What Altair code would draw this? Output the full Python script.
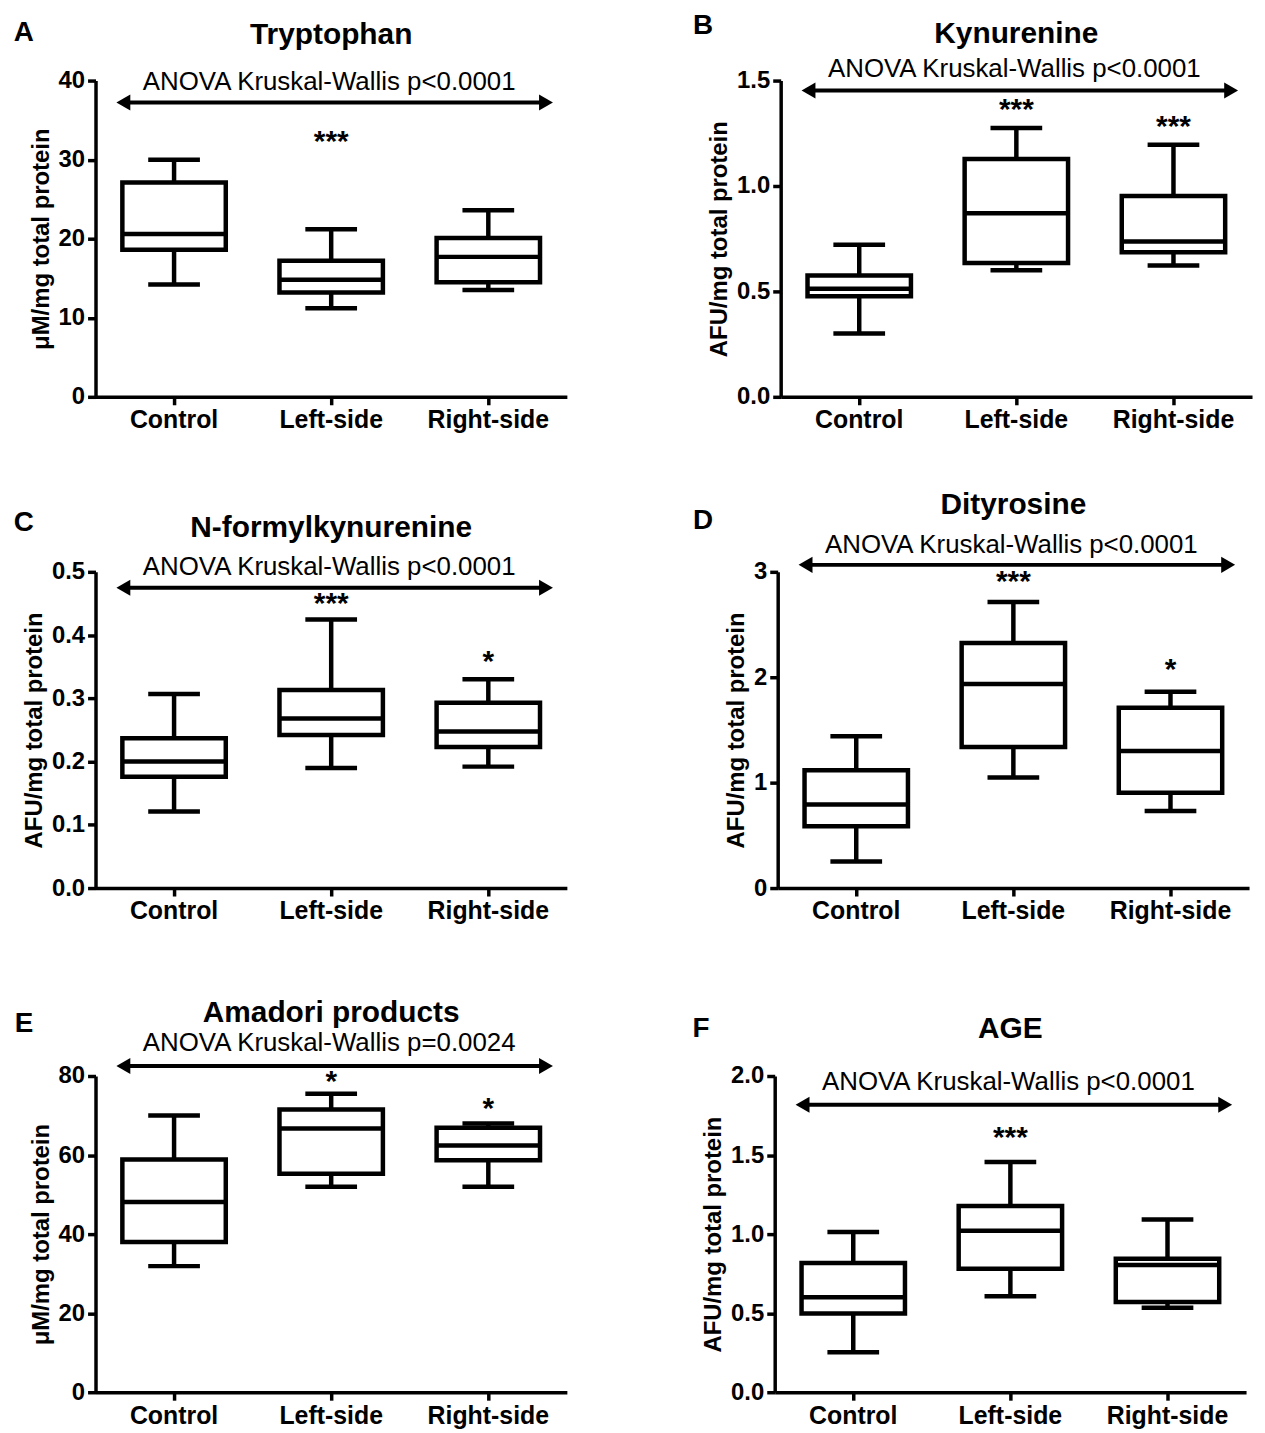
import altair as alt
import pandas as pd

groups = ["Control", "Left-side", "Right-side"]

# Panel A - Tryptophan
trp_min = [14.2, 11.2, 13.5]
trp_q1 = [18.6, 13.2, 14.5]
trp_med = [20.6, 14.8, 17.7]
trp_q3 = [27.1, 17.2, 20.1]
trp_max = [30.0, 21.2, 23.6]
trp_stars = ["", "***", ""]
trp_star_y = [None, 32.6, None]

# Panel B - Kynurenine
kyn_min = [0.300, 0.600, 0.623]
kyn_q1 = [0.477, 0.635, 0.686]
kyn_med = [0.513, 0.871, 0.737]
kyn_q3 = [0.575, 1.128, 0.952]
kyn_max = [0.721, 1.275, 1.196]
kyn_stars = ["", "***", "***"]
kyn_star_y = [None, 1.374, 1.296]

# Panel C - N-formylkynurenine
nfk_min = [0.121, 0.190, 0.192]
nfk_q1 = [0.176, 0.242, 0.223]
nfk_med = [0.200, 0.268, 0.2475]
nfk_q3 = [0.237, 0.313, 0.293]
nfk_max = [0.307, 0.4245, 0.330]
nfk_stars = ["", "***", "*"]
nfk_star_y = [None, 0.454, 0.362]

# Panel D - Dityrosine
dit_min = [0.253, 1.048, 0.730]
dit_q1 = [0.587, 1.339, 0.905]
dit_med = [0.793, 1.936, 1.300]
dit_q3 = [1.117, 2.324, 1.710]
dit_max = [1.440, 2.714, 1.863]
dit_stars = ["", "***", "*"]
dit_star_y = [None, 2.93, 2.10]

# Panel E - Amadori products
ama_min = [31.9, 52.0, 52.0]
ama_q1 = [38.0, 55.3, 58.7]
ama_med = [48.1, 66.7, 62.4]
ama_q3 = [58.9, 71.5, 66.9]
ama_max = [70.0, 75.5, 68.0]
ama_stars = ["", "*", "*"]
ama_star_y = [None, 79.1, 72.4]

# Panel F - AGE
age_min = [0.253, 0.607, 0.534]
age_q1 = [0.498, 0.781, 0.571]
age_med = [0.601, 1.021, 0.804]
age_q3 = [0.818, 1.178, 0.844]
age_max = [1.013, 1.456, 1.092]
age_stars = ["", "***", ""]
age_star_y = [None, 1.628, None]

FONT = "Liberation Sans"
W, H = 474, 318
BOX_W, CAP_W, LW = 104, 52, 4.5


def panel(letter, title, ytitle, domain, ticks, fmt, ptext,
          mins, q1s, meds, q3s, maxs, stars, star_y, lay):
    df = pd.DataFrame({"group": groups, "lo": mins, "q1": q1s, "med": meds,
                       "q3": q3s, "hi": maxs})
    sdf = pd.DataFrame({"group": groups, "star": stars, "sy": star_y}).dropna()
    one = pd.DataFrame({"title": [title], "letter": [letter], "ptext": [ptext]})

    x = alt.X("group:N", sort=groups,
              scale=alt.Scale(paddingInner=0, paddingOuter=0),
              axis=alt.Axis(title=None, labelAngle=0))
    yscale = alt.Scale(domain=domain, nice=False, zero=True)
    yaxis = alt.Axis(values=ticks, format=fmt, title=ytitle)

    base = alt.Chart(df)
    whisk_lo = base.mark_rule(color="black", strokeWidth=LW).encode(
        x=x, y=alt.Y("lo:Q", scale=yscale, axis=yaxis), y2="q1:Q")
    whisk_hi = base.mark_rule(color="black", strokeWidth=LW).encode(
        x=x, y=alt.Y("q3:Q", scale=yscale), y2="hi:Q")
    box = base.mark_bar(fill="white", stroke="black", strokeWidth=LW,
                        size=BOX_W, opacity=1).encode(
        x=x, y=alt.Y("q1:Q", scale=yscale), y2="q3:Q")
    med = base.mark_tick(color="black", thickness=LW, size=BOX_W - 2,
                         opacity=1).encode(
        x=x, y=alt.Y("med:Q", scale=yscale))
    cap_lo = base.mark_tick(color="black", thickness=LW, size=CAP_W,
                            opacity=1).encode(
        x=x, y=alt.Y("lo:Q", scale=yscale))
    cap_hi = base.mark_tick(color="black", thickness=LW, size=CAP_W,
                            opacity=1).encode(
        x=x, y=alt.Y("hi:Q", scale=yscale))

    star_txt = alt.Chart(sdf).mark_text(font=FONT, fontSize=30, fontWeight="bold",
                                         color="black", baseline="middle",
                                         dy=3).encode(
        x=x, y=alt.Y("sy:Q", scale=yscale), text="star:N")

    oc = alt.Chart(one)
    title_txt = oc.mark_text(font=FONT, fontSize=30, fontWeight="bold",
                             color="black", baseline="middle", align="center").encode(
        x=alt.value(W / 2), y=alt.value(lay["title"]), text="title:N")
    letter_txt = oc.mark_text(font=FONT, fontSize=28, fontWeight="bold",
                              color="black", baseline="middle", align="center").encode(
        x=alt.value(lay["letter"][0]), y=alt.value(lay["letter"][1]), text="letter:N")
    p_txt = oc.mark_text(font=FONT, fontSize=26, color="black",
                         baseline="middle", align="center").encode(
        x=alt.value(W / 2 - 2), y=alt.value(lay["ptext"]), text="ptext:N")
    arrow = oc.mark_rule(color="black", strokeWidth=4).encode(
        x=alt.value(27), x2=alt.value(454), y=alt.value(lay["arrow"]))
    head_l = oc.mark_point(shape="triangle-left", filled=True, color="black",
                           opacity=1, size=260).encode(
        x=alt.value(28), y=alt.value(lay["arrow"]))
    head_r = oc.mark_point(shape="triangle-right", filled=True, color="black",
                           opacity=1, size=260).encode(
        x=alt.value(453), y=alt.value(lay["arrow"]))

    return alt.layer(whisk_lo, whisk_hi, box, med, cap_lo, cap_hi, star_txt,
                     arrow, head_l, head_r, p_txt, title_txt, letter_txt
                     ).properties(width=W, height=H)


pA = panel("A", "Tryptophan", "\u03bcM/mg total protein", [0, 40], [0, 10, 20, 30, 40], "d",
           "ANOVA Kruskal-Wallis p<0.0001",
           trp_min, trp_q1, trp_med, trp_q3, trp_max, trp_stars, trp_star_y,
           {"title": -46, "letter": (-72, -48), "ptext": 1, "arrow": 22})
pB = panel("B", "Kynurenine", "AFU/mg total protein", [0, 1.5], [0, 0.5, 1.0, 1.5], ".1f",
           "ANOVA Kruskal-Wallis p<0.0001",
           kyn_min, kyn_q1, kyn_med, kyn_q3, kyn_max, kyn_stars, kyn_star_y,
           {"title": -47, "letter": (-78, -55), "ptext": -12, "arrow": 10})
pC = panel("C", "N-formylkynurenine", "AFU/mg total protein", [0, 0.5],
           [0, 0.1, 0.2, 0.3, 0.4, 0.5], ".1f",
           "ANOVA Kruskal-Wallis p<0.0001",
           nfk_min, nfk_q1, nfk_med, nfk_q3, nfk_max, nfk_stars, nfk_star_y,
           {"title": -44, "letter": (-72, -49), "ptext": -5, "arrow": 16})
pD = panel("D", "Dityrosine", "AFU/mg total protein", [0, 3], [0, 1, 2, 3], "d",
           "ANOVA Kruskal-Wallis p<0.0001",
           dit_min, dit_q1, dit_med, dit_q3, dit_max, dit_stars, dit_star_y,
           {"title": -67, "letter": (-75, -51), "ptext": -27, "arrow": -7})
pE = panel("E", "Amadori products", "\u03bcM/mg total protein", [0, 80], [0, 20, 40, 60, 80], "d",
           "ANOVA Kruskal-Wallis p=0.0024",
           ama_min, ama_q1, ama_med, ama_q3, ama_max, ama_stars, ama_star_y,
           {"title": -63, "letter": (-72, -52), "ptext": -33, "arrow": -10})
pF = panel("F", "AGE", "AFU/mg total protein", [0, 2], [0, 0.5, 1.0, 1.5, 2.0], ".1f",
           "ANOVA Kruskal-Wallis p<0.0001",
           age_min, age_q1, age_med, age_q3, age_max, age_stars, age_star_y,
           {"title": -47, "letter": (-74, -47), "ptext": 6, "arrow": 29})

chart = alt.vconcat(
    alt.vconcat(
        alt.hconcat(pA, pB, spacing=126),
        alt.hconcat(pC, pD, spacing=126),
        spacing=58,
    ),
    alt.hconcat(pE, pF, spacing=126),
    spacing=75,
).properties(
    padding={"left": 5, "top": 0, "right": 5, "bottom": 0}
).configure_view(stroke=None).configure_axis(
    domainColor="black", domainWidth=3.5, tickColor="black", tickWidth=3.5,
    tickSize=8, labelFont=FONT, labelFontSize=24, labelFontWeight="bold",
    labelColor="black", labelPadding=3, titleFont=FONT, titleFontSize=24,
    titleFontWeight="bold", titleColor="black", titlePadding=5, grid=False,
).configure_axisX(labelFontSize=25, labelPadding=3)

chart.save("out.html", embed_options={"renderer": "svg", "actions": False})
